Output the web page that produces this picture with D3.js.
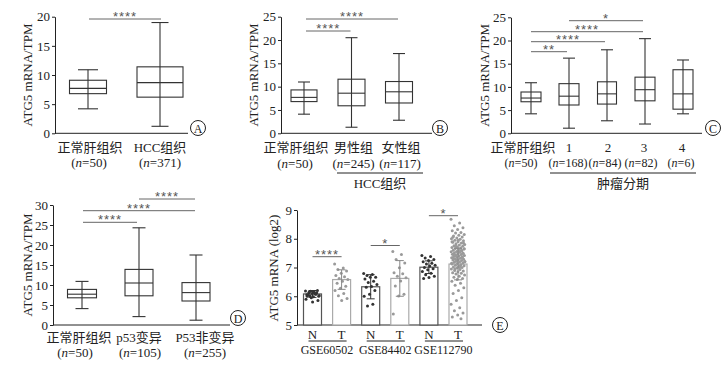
<!DOCTYPE html>
<html><head><meta charset="utf-8">
<script src="https://cdn.jsdelivr.net/npm/d3@7"></script>
<style>
body{margin:0;background:#fff;}
svg text{font-family:"Liberation Serif","Noto Sans CJK SC",serif;fill:#222;}
svg text.ast{font-family:"Liberation Sans","DejaVu Sans",sans-serif;fill:#555;}
</style></head><body>
<svg id="c" width="727" height="366"></svg>
<script>
// ---------- DATA ----------
// Panel A
const catsA = ["正常肝组织","HCC组织"];
const nA = ["50","371"];
const minA=[4.2,1.2], q1A=[6.8,6.2], medA=[7.7,8.7], q3A=[9.1,11.4], maxA=[10.9,19.0];
const ticksA=[0,5,10,15,20];
const sigA=[[0,1,"****"]];
// Panel B
const catsB = ["正常肝组织","男性组","女性组"];
const nB = ["50","245","117"];
const minB=[4.1,1.3,2.8], q1B=[6.8,5.9,6.5], medB=[7.7,8.6,8.9], q3B=[9.3,11.6,11.1], maxB=[11.0,20.5,17.1];
const ticksB=[0,5,10,15,20,25];
const sigB=[[0,1,"****"],[0,2,"****"]];
const groupB="HCC组织";
// Panel C
const catsC = ["正常肝组织","1","2","3","4"];
const nC = ["50","168","84","82","6"];
const minC=[4.2,1.1,2.7,2.0,4.2], q1C=[6.8,6.1,6.3,7.0,5.2], medC=[7.6,8.0,8.5,9.4,8.5], q3C=[8.9,10.7,11.1,12.1,13.7], maxC=[10.9,16.2,18.0,20.4,15.8];
const ticksC=[0,5,10,15,20,25];
const sigC=[[0,1,"**"],[0,2,"****"],[0,3,"****"],[1,3,"*"]];
const groupC="肿瘤分期";
// Panel D
const catsD = ["正常肝组织","p53变异","P53非变异"];
const nD = ["50","105","255"];
const minD=[4.1,2.1,1.2], q1D=[6.8,7.3,6.0], medD=[7.7,10.5,8.1], q3D=[8.9,13.9,10.6], maxD=[10.9,24.3,17.5];
const ticksD=[0,5,10,15,20,25,30];
const sigD=[[0,1,"****"],[0,2,"****"],[1,2,"****"]];
// Panel E
const datasetsE=["GSE60502","GSE84402","GSE112790"];
const groupsE=["N","T","N","T","N","T"];
const meanE=[6.08,6.58,6.33,6.62,7.01,7.12];
const sdE=[0.12,0.34,0.42,0.62,0.22,0.55];
const ticksE=[5,6,7,8,9];
const sigE=[[0,1,"****"],[2,3,"*"],[4,5,"*"]];
const ptsN1=[6.18,6.15,6.12,6.2,6.1,6.05,6.08,6.02,6.0,5.98,6.05,6.12,5.95,5.9,6.1,6.15,5.85,5.8,6.0,6.07,6.17,6.03];
const ptsT1=[7.12,6.98,6.93,6.88,6.8,6.72,6.68,6.62,6.58,6.52,6.45,6.35,6.28,6.2,6.1,6.02,5.92,5.85];
const ptsN2=[6.79,6.76,6.72,6.66,6.66,6.6,6.52,6.48,6.41,6.34,6.31,6.2,6.07,6.0,5.72,5.66];
const ptsT2=[7.56,7.45,7.28,7.16,6.99,6.82,6.78,6.7,6.64,6.53,6.36,6.07,6.01,5.38];
const ptsN3=[7.42,7.38,7.33,7.28,7.24,7.2,7.15,7.12,7.08,7.05,7.0,6.96,6.92,6.86,6.8,6.75,6.7,6.65,6.62];
const ptsT3=[8.68,8.55,8.45,8.38,8.32,8.28,8.22,8.2,8.15,8.12,8.1,8.06,8.03,8.0,7.98,7.95,7.93,7.9,7.88,7.85,
 7.83,7.8,7.78,7.76,7.74,7.72,7.7,7.68,7.66,7.64,7.62,7.6,7.58,7.56,7.55,7.53,7.51,7.5,7.48,7.46,
 7.45,7.43,7.42,7.4,7.38,7.37,7.35,7.34,7.32,7.3,7.29,7.27,7.26,7.24,7.22,7.21,7.19,7.18,7.16,7.14,
 7.12,7.1,7.08,7.06,7.04,7.02,7.0,6.98,6.95,6.93,6.9,6.88,6.85,6.82,6.8,6.77,6.74,6.7,6.66,6.62,
 6.58,6.52,6.45,6.38,6.3,6.2,6.1,5.95,5.85,5.72,5.6,5.5,5.42,5.35,5.28,5.22,
 7.75,7.65,7.55,7.45,7.35,7.25,7.15,7.05,6.95,7.85,7.95,8.05,7.6,7.4,7.2,7.0,7.3,7.5,7.7,7.9];
const ptsE=[ptsN1,ptsT1,ptsN2,ptsT2,ptsN3,ptsT3];

// ---------- DRAW ----------
const svg=d3.select("#c");
const INK="#222", BOX="#333", SIG="#666";

function styleAxis(a){
  a.selectAll("path,line").attr("stroke",INK).attr("stroke-width",1);
  a.selectAll("text").attr("font-size",13).attr("font-family",null).attr("fill",INK);
}
function circleTag(x,y,t){
  svg.append("circle").attr("cx",x).attr("cy",y).attr("r",7.5).attr("fill","none").attr("stroke",INK).attr("stroke-width",1);
  svg.append("text").attr("x",x).attr("y",y+0.5).attr("text-anchor","middle").attr("dominant-baseline","central").attr("font-size",12).text(t);
}
function yLabel(x,y,t){
  svg.append("text").attr("transform",`translate(${x},${y}) rotate(-90)`).attr("text-anchor","middle").attr("dominant-baseline","central").attr("font-size",13).text(t);
}
function nLabel(x,y,n,fs){
  const t=svg.append("text").attr("x",x).attr("y",y).attr("text-anchor","middle").attr("dominant-baseline","central").attr("font-size",fs||13);
  t.append("tspan").text("(");
  t.append("tspan").attr("font-style","italic").text("n");
  t.append("tspan").text("="+n+")");
}
function sigLine(x1,x2,y,lab){
  svg.append("line").attr("x1",x1).attr("x2",x2).attr("y1",y).attr("y2",y).attr("stroke",SIG).attr("stroke-width",1);
  svg.append("text").attr("class","ast").attr("x",(x1+x2)/2).attr("y",y+2).attr("text-anchor","middle").attr("font-size",13).attr("letter-spacing",1).text(lab);
}

function boxPanel(o){
  const y=d3.scaleLinear().domain([o.ticks[0],o.ticks[o.ticks.length-1]]).range([o.y0,o.y1]);
  const x=d3.scalePoint().domain(o.cats.map((c,i)=>i)).range([o.xc0,o.xc1]);
  const a=svg.append("g").attr("transform",`translate(${o.ax},0)`)
    .call(d3.axisLeft(y).tickValues(o.ticks).tickFormat(d3.format("d")).tickSize(3).tickSizeOuter(0).tickPadding(2));
  styleAxis(a);
  svg.append("line").attr("x1",o.ax).attr("x2",o.axEnd).attr("y1",o.y0).attr("y2",o.y0).attr("stroke",INK);
  o.cats.forEach((c,i)=>{
    const cx=x(i), w=o.bw[i], cw=o.cw[i];
    const g=svg.append("g").attr("stroke",BOX).attr("stroke-width",1.1).attr("fill","none");
    g.append("line").attr("x1",cx).attr("x2",cx).attr("y1",y(o.min[i])).attr("y2",y(o.max[i]));
    g.append("line").attr("x1",cx-cw/2).attr("x2",cx+cw/2).attr("y1",y(o.min[i])).attr("y2",y(o.min[i]));
    g.append("line").attr("x1",cx-cw/2).attr("x2",cx+cw/2).attr("y1",y(o.max[i])).attr("y2",y(o.max[i]));
    g.append("rect").attr("x",cx-w/2).attr("width",w).attr("y",y(o.q3[i])).attr("height",y(o.q1[i])-y(o.q3[i]));
    g.append("line").attr("x1",cx-w/2).attr("x2",cx+w/2).attr("y1",y(o.med[i])).attr("y2",y(o.med[i]));
    svg.append("text").attr("x",cx+o.dx[i]).attr("y",o.ly1).attr("text-anchor","middle").attr("dominant-baseline","central").attr("font-size",13).text(c);
    nLabel(cx+o.ndx[i],o.ly2,o.n[i],o.nfs);
  });
  o.sig.forEach((s,k)=>sigLine(x(s[0])+o.sx1[k],x(s[1])+o.sx2[k],o.sy[k],s[2]));
  if(o.group){
    svg.append("line").attr("x1",o.gx1).attr("x2",o.gx2).attr("y1",o.gy).attr("y2",o.gy).attr("stroke",INK);
    svg.append("text").attr("x",(o.gx1+o.gx2)/2).attr("y",o.gy+10.5).attr("text-anchor","middle").attr("dominant-baseline","central").attr("font-size",13).text(o.group);
  }
  yLabel(o.ylx,(o.y0+o.y1)/2+o.yldy,"ATG5 mRNA/TPM");
  circleTag(o.tx,o.ty,o.tag);
}

boxPanel({cats:catsA,n:nA,min:minA,q1:q1A,med:medA,q3:q3A,max:maxA,ticks:ticksA,sig:sigA,
  y0:133.3,y1:16.7,ax:55,axEnd:188,xc0:88,xc1:160,bw:[37,46],cw:[20,17],dx:[2,0],ndx:[1,0],
  ly1:147,ly2:161.5,sy:[19],sx1:[1],sx2:[1],ylx:27,yldy:0,tx:198,ty:128,tag:"A"});
boxPanel({cats:catsB,n:nB,min:minB,q1:q1B,med:medB,q3:q3B,max:maxB,ticks:ticksB,sig:sigB,
  y0:133.3,y1:16.7,ax:281,axEnd:432,xc0:304,xc1:399,bw:[26,27,27],cw:[12,12,12],dx:[-8,2,2],ndx:[-9,2,1],
  ly1:147,ly2:162.5,sy:[31,19],sx1:[2,2],sx2:[-1,-1],group:groupB,gx1:337,gx2:423,gy:173,
  ylx:253,yldy:0,tx:440,ty:128,tag:"B"});
boxPanel({cats:catsC,n:nC,min:minC,q1:q1C,med:medC,q3:q3C,max:maxC,ticks:ticksC,sig:sigC,
  y0:133.3,y1:17.3,ax:511,axEnd:702,xc0:531,xc1:683,bw:[20,20,19,20,20],cw:[12,12,12,12,12],dx:[-8,0,1,-1,-1],ndx:[-10,-1,-2,-4,-2],nfs:12,
  ly1:147,ly2:162.5,sy:[51.7,41.7,31.7,20.7],sx1:[0,0,0,0],sx2:[-2,-2,-2,-2],group:groupC,gx1:550,gx2:696,gy:173,
  ylx:484,yldy:0,tx:713,ty:128,tag:"C"});
boxPanel({cats:catsD,n:nD,min:minD,q1:q1D,med:medD,q3:q3D,max:maxD,ticks:ticksD,sig:sigD,
  y0:325,y1:205,ax:53,axEnd:230,xc0:82,xc1:196,bw:[29,28,28],cw:[13,13,13],dx:[-3,0,9],ndx:[-7,1,9],
  ly1:337.5,ly2:351.5,sy:[222.3,210.7,199],sx1:[1,1,0],sx2:[-2,-1,-1],ylx:27,yldy:0,tx:238,ty:318,tag:"D"});

// Panel E
(function(){
  const y=d3.scaleLinear().domain([5,9]).range([325,210]);
  const x=d3.scalePoint().domain(groupsE.map((g,i)=>i)).range([312.5,458]);
  const bw=18;
  const a=svg.append("g").attr("transform","translate(297,0)")
    .call(d3.axisLeft(y).tickValues(ticksE).tickFormat(d3.format("d")).tickSize(3).tickSizeOuter(0).tickPadding(2));
  styleAxis(a);
  svg.append("line").attr("x1",297).attr("x2",482).attr("y1",325).attr("y2",325).attr("stroke",INK);
  groupsE.forEach((g,i)=>{
    const cx=x(i), isN=g==="N";
    const col=isN?"#555":"#aaa", pc=isN?"#333":"#9a9a9a";
    svg.append("rect").attr("x",cx-bw/2).attr("width",bw).attr("y",y(meanE[i])).attr("height",y(5)-y(meanE[i]))
      .attr("fill","#fff").attr("stroke",col).attr("stroke-width",1.2);
    ptsE[i].forEach((v,k)=>{
      const off=(((k*0.618034)%1)-0.5)*2*(bw/2-2);
      svg.append("circle").attr("cx",cx+off).attr("cy",y(v)).attr("r",1.5).attr("fill",pc);
    });
    const eg=svg.append("g").attr("stroke",isN?"#333":"#888").attr("stroke-width",1);
    const lo=y(meanE[i]-sdE[i]), hi=y(meanE[i]+sdE[i]);
    eg.append("line").attr("x1",cx).attr("x2",cx).attr("y1",lo).attr("y2",hi);
    eg.append("line").attr("x1",cx-4).attr("x2",cx+4).attr("y1",lo).attr("y2",lo);
    eg.append("line").attr("x1",cx-4).attr("x2",cx+4).attr("y1",hi).attr("y2",hi);
    svg.append("text").attr("x",cx).attr("y",334).attr("text-anchor","middle").attr("dominant-baseline","central").attr("font-size",13).text(g);
  });
  datasetsE.forEach((d,j)=>{
    const xn=x(2*j), xt=x(2*j+1);
    svg.append("line").attr("x1",xn-4).attr("x2",xt+5).attr("y1",341).attr("y2",341).attr("stroke",INK);
    svg.append("text").attr("x",(xn+xt)/2).attr("y",349.5).attr("text-anchor","middle").attr("dominant-baseline","central").attr("font-size",12).text(d);
  });
  const sy=[256.7,245.5,215.7];
  sigE.forEach((s,k)=>sigLine(x(s[0]),x(s[1]),sy[k],s[2]));
  yLabel(273,268,"ATG5 mRNA (log2)");
  circleTag(500,325,"E");
})();
</script></body></html>
